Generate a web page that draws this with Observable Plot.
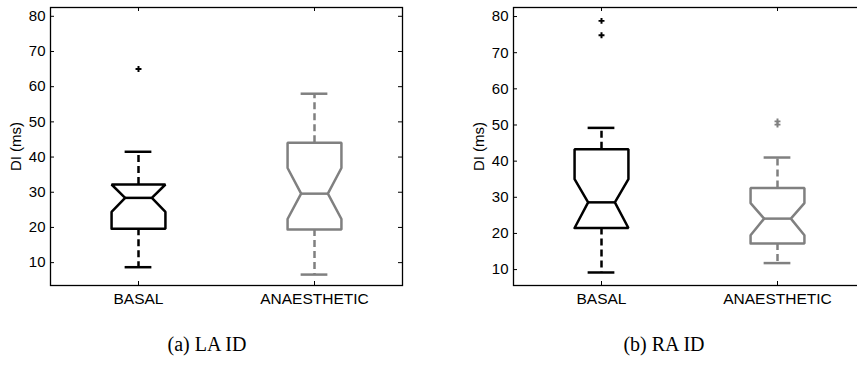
<!DOCTYPE html>
<html>
<head>
<meta charset="utf-8">
<script src="https://cdn.jsdelivr.net/npm/d3@7"></script>
<script src="https://cdn.jsdelivr.net/npm/@observablehq/plot@0.6"></script>
<style>
  html, body { margin: 0; padding: 0; background: #fff; }
  #fig { position: relative; width: 857px; height: 365px; overflow: hidden; background: #fff; }
  .panel { position: absolute; top: 0; }
  .panel text { font-family: "Liberation Sans", Arial, sans-serif; }
  .caption {
    position: absolute; top: 333px; line-height: 22px;
    font-family: "Liberation Serif", "Times New Roman", serif; font-size: 20px;
    color: #000; white-space: nowrap; transform: translateX(-50%);
  }
</style>
</head>
<body>
<div id="fig"></div>
<script>
// Groups along the x axis and the y tick values
const categories = ["BASAL", "ANAESTHETIC"];
const yTicks = [10, 20, 30, 40, 50, 60, 70, 80];

// (a) LA ID — diastolic interval summary per group (ms)
const laLimits = [3.5, 82.5];
const laQ1 = [19.6, 19.4];
const laMedian = [28.4, 29.6];
const laQ3 = [32.2, 44.1];
const laNotchLow = [24.4, 22.4];
const laNotchHigh = [32.2, 36.9];
const laWhiskerLow = [8.7, 6.6];
const laWhiskerHigh = [41.5, 58.0];
const laOutliers = [[65.0], []];

// (b) RA ID — diastolic interval summary per group (ms)
const raLimits = [5.6, 82.5];
const raQ1 = [21.5, 17.2];
const raMedian = [28.6, 24.1];
const raQ3 = [43.3, 32.6];
const raNotchLow = [21.5, 19.5];
const raNotchHigh = [35.0, 28.4];
const raWhiskerLow = [9.2, 11.8];
const raWhiskerHigh = [49.2, 41.0];
const raOutliers = [[74.8, 78.8], [50.1, 51.0]];

// Drawing constants
const groupColors = ["#000000", "#808080"];
const W = 430, H = 310, mL = 50, mR = 28, mT = 7, mB = 25;
const plotW = W - mL - mR, plotH = H - mT - mB;
const boxHalf = 0.153;    // half box width, x units
const notchHalf = 0.076;  // half width at the median / whisker caps
const tickLen = 4;

function panel(s) {
  const marks = [];
  categories.forEach((name, i) => {
    const x = i + 1, c = groupColors[i];
    const line = {stroke: c, strokeWidth: 2.5};
    // dashed whiskers
    marks.push(Plot.ruleX([{x, y1: s.q3[i], y2: s.hi[i]}, {x, y1: s.q1[i], y2: s.lo[i]}],
      {x: "x", y1: "y1", y2: "y2", ...line, strokeDasharray: "7,4"}));
    // whisker caps
    marks.push(Plot.ruleY([s.hi[i], s.lo[i]],
      {y: d => d, x1: x - notchHalf, x2: x + notchHalf, ...line}));
    // notched box outline
    const pts = [
      [x - boxHalf, s.q1[i]], [x - boxHalf, s.nlo[i]], [x - notchHalf, s.med[i]],
      [x - boxHalf, s.nhi[i]], [x - boxHalf, s.q3[i]], [x + boxHalf, s.q3[i]],
      [x + boxHalf, s.nhi[i]], [x + notchHalf, s.med[i]], [x + boxHalf, s.nlo[i]],
      [x + boxHalf, s.q1[i]], [x - boxHalf, s.q1[i]]
    ];
    marks.push(Plot.line(pts, {x: d => d[0], y: d => d[1], ...line, strokeLinejoin: "miter"}));
    // median
    marks.push(Plot.ruleY([s.med[i]], {y: d => d, x1: x - notchHalf, x2: x + notchHalf, ...line}));
    // outliers
    marks.push(Plot.dot(s.out[i], {x: () => x, y: d => d, symbol: "cross", r: 2.5, fill: c, stroke: null}));
  });

  return Plot.plot({
    width: W, height: H,
    marginLeft: mL, marginRight: mR, marginTop: mT, marginBottom: mB,
    x: {domain: [0.5, 2.5]},
    y: {domain: s.limits},
    style: {fontFamily: "'Liberation Sans', Arial, sans-serif", fontSize: "15px", color: "#000", background: "#fff"},
    marks: [
      Plot.frame({stroke: "#000", strokeWidth: 1.3}),
      // inward ticks on all four sides
      Plot.tickY(yTicks, {y: d => d, insetRight: plotW - tickLen, stroke: "#000"}),
      Plot.tickY(yTicks, {y: d => d, insetLeft: plotW - tickLen, stroke: "#000"}),
      Plot.tickX([1, 2], {x: d => d, insetTop: plotH - tickLen, stroke: "#000"}),
      Plot.tickX([1, 2], {x: d => d, insetBottom: plotH - tickLen, stroke: "#000"}),
      Plot.axisY({ticks: yTicks, tickSize: 0, tickPadding: 5, label: "DI (ms)", fontSize: 15,
        labelAnchor: "center", labelOffset: 40, labelArrow: "none"}),
      Plot.axisX({ticks: [1, 2], tickFormat: d => categories[d - 1], tickSize: 0, tickPadding: 7,
        label: null, fontSize: 15.5}),
      ...marks
    ]
  });
}

const fig = document.getElementById("fig");
const panels = [
  {left: 0, caption: "(a) LA ID", cx: 207, s: {limits: laLimits, q1: laQ1, med: laMedian, q3: laQ3,
    nlo: laNotchLow, nhi: laNotchHigh, lo: laWhiskerLow, hi: laWhiskerHigh, out: laOutliers}},
  {left: 463, caption: "(b) RA ID", cx: 664, s: {limits: raLimits, q1: raQ1, med: raMedian, q3: raQ3,
    nlo: raNotchLow, nhi: raNotchHigh, lo: raWhiskerLow, hi: raWhiskerHigh, out: raOutliers}}
];
for (const p of panels) {
  const svg = panel(p.s);
  svg.classList.add("panel");
  svg.style.left = p.left + "px";
  fig.appendChild(svg);
  const cap = document.createElement("div");
  cap.className = "caption";
  cap.style.left = p.cx + "px";
  cap.textContent = p.caption;
  fig.appendChild(cap);
}
</script>
</body>
</html>
